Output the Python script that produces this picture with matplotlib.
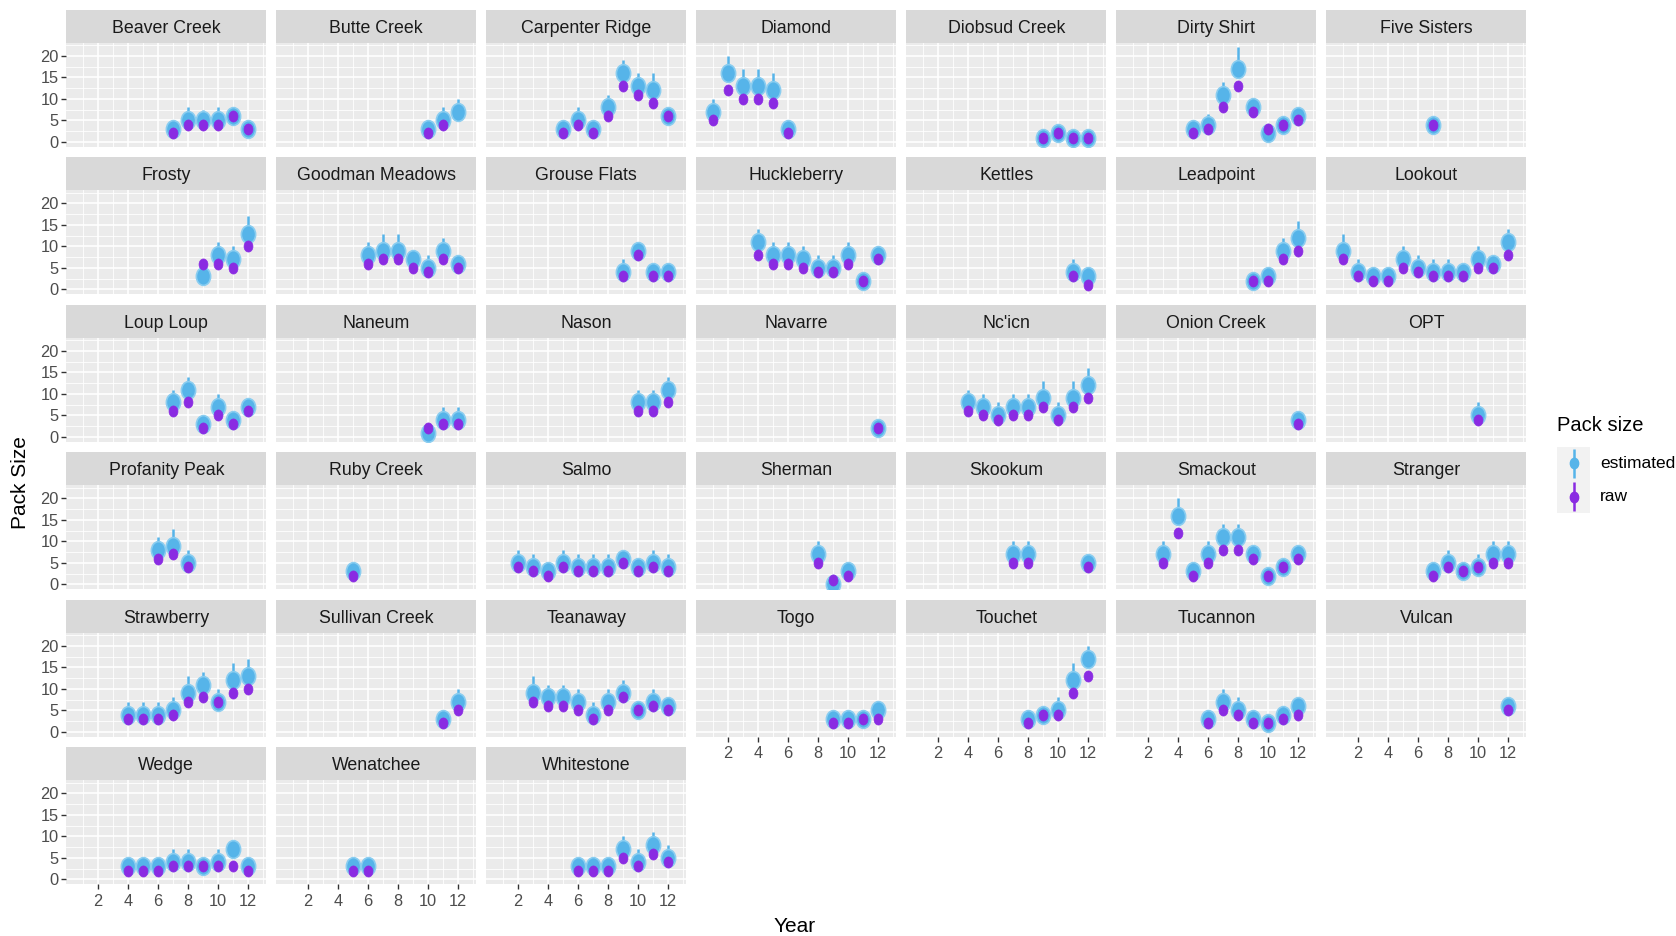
import numpy as np
import matplotlib
matplotlib.use("Agg")
import matplotlib.pyplot as plt
from matplotlib.path import Path
from matplotlib import font_manager as fm

nan = np.nan

packs = ["Beaver Creek", "Butte Creek", "Carpenter Ridge", "Diamond", "Diobsud Creek", "Dirty Shirt", "Five Sisters",
         "Frosty", "Goodman Meadows", "Grouse Flats", "Huckleberry", "Kettles", "Leadpoint", "Lookout",
         "Loup Loup", "Naneum", "Nason", "Navarre", "Nc'icn", "Onion Creek", "OPT",
         "Profanity Peak", "Ruby Creek", "Salmo", "Sherman", "Skookum", "Smackout", "Stranger",
         "Strawberry", "Sullivan Creek", "Teanaway", "Togo", "Touchet", "Tucannon", "Vulcan",
         "Wedge", "Wenatchee", "Whitestone"]

years = [
    [7, 8, 9, 10, 11, 12], [10, 11, 12], [5, 6, 7, 8, 9, 10, 11, 12], [1, 2, 3, 4, 5, 6], [9, 10, 11, 12],
    [5, 6, 7, 8, 9, 10, 11, 12], [7],
    [9, 10, 11, 12], [6, 7, 8, 9, 10, 11, 12], [9, 10, 11, 12], [4, 5, 6, 7, 8, 9, 10, 11, 12], [11, 12],
    [9, 10, 11, 12], [1, 2, 3, 4, 5, 6, 7, 8, 9, 10, 11, 12],
    [7, 8, 9, 10, 11, 12], [10, 11, 12], [10, 11, 12], [12], [4, 5, 6, 7, 8, 9, 10, 11, 12], [12], [10],
    [6, 7, 8], [5], [2, 3, 4, 5, 6, 7, 8, 9, 10, 11, 12], [8, 9, 10], [7, 8, 12], [3, 4, 5, 6, 7, 8, 9, 10, 11, 12],
    [7, 8, 9, 10, 11, 12],
    [4, 5, 6, 7, 8, 9, 10, 11, 12], [11, 12], [3, 4, 5, 6, 7, 8, 9, 10, 11, 12], [9, 10, 11, 12], [8, 9, 10, 11, 12],
    [6, 7, 8, 9, 10, 11, 12], [12],
    [4, 5, 6, 7, 8, 9, 10, 11, 12], [5, 6], [6, 7, 8, 9, 10, 11, 12],
]

estimated = [
    [3, 5, 5, 5, 6, 3], [3, 5, 7], [3, 5, 3, 8, 16, 13, 12, 6], [7, 16, 13, 13, 12, 3], [1, 2, 1, 1],
    [3, 4, 11, 17, 8, 2, 4, 6], [4],
    [3, 8, 7, 13], [8, 9, 9, 7, 5, 9, 6], [4, 9, 4, 4], [11, 8, 8, 7, 5, 5, 8, 2, 8], [4, 3],
    [2, 3, 9, 12], [9, 4, 3, 3, 7, 5, 4, 4, 4, 7, 6, 11],
    [8, 11, 3, 7, 4, 7], [1, 4, 4], [8, 8, 11], [2], [8, 7, 5, 7, 7, 9, 5, 9, 12], [4], [5],
    [8, 9, 5], [3], [5, 4, 3, 5, 4, 4, 4, 6, 4, 5, 4], [7, 0, 3], [7, 7, 5], [7, 16, 3, 7, 11, 11, 7, 2, 4, 7],
    [3, 5, 3, 4, 7, 7],
    [4, 4, 4, 5, 9, 11, 7, 12, 13], [3, 7], [9, 8, 8, 7, 4, 7, 9, 5, 7, 6], [3, 3, 3, 5], [3, 4, 5, 12, 17],
    [3, 7, 5, 3, 2, 4, 6], [6],
    [3, 3, 3, 4, 4, 3, 4, 7, 3], [3, 3], [3, 3, 3, 7, 4, 8, 5],
]

raw = [
    [2, 4, 4, 4, 6, 3], [2, 4, nan], [2, 4, 2, 6, 13, 11, 9, 6], [5, 12, 10, 10, 9, 2], [1, 2, 1, 1],
    [2, 3, 8, 13, 7, 3, 4, 5], [4],
    [6, 6, 5, 10], [6, 7, 7, 5, 4, 7, 5], [3, 8, 3, 3], [8, 6, 6, 5, 4, 4, 6, 2, 7], [3, 1],
    [2, 2, 7, 9], [7, 3, 2, 2, 5, 4, 3, 3, 3, 5, 5, 8],
    [6, 8, 2, 5, 3, 6], [2, 3, 3], [6, 6, 8], [2], [6, 5, 4, 5, 5, 7, 4, 7, 9], [3], [4],
    [6, 7, 4], [2], [4, 3, 2, 4, 3, 3, 3, 5, 3, 4, 3], [5, 1, 2], [5, 5, 4], [5, 12, 2, 5, 8, 8, 6, 2, 4, 6],
    [2, 4, 3, 4, 5, 5],
    [3, 3, 3, 4, 7, 8, 7, 9, 10], [2, 5], [7, 6, 6, 5, 3, 5, 8, 5, 6, 5], [2, 2, 3, 3], [2, 4, 4, 9, 13],
    [2, 5, 4, 2, 2, 3, 4], [5],
    [2, 2, 2, 3, 3, 3, 3, 3, 2], [2, 2], [2, 2, 2, 5, 3, 6, 4],
]

upper = [
    [5, 8, 7.5, 8, 8, 5], [5, 8, 10], [5, 8, 5, 11, 19, 16, 16, 8], [10, 20, 17, 17, 16, 4.5], [2.5, 3.5, 2.5, 2.5],
    [5, 6.5, 14, 22, 9.5, 3, 5.5, 7.5], [5.5],
    [3.5, 11, 10, 17], [11, 13, 13, 9, 8, 12, 8], [7, 11, 6, 5.5], [14, 11, 11, 10, 8, 8, 11, 4, 9.5], [7, 5],
    [2.5, 5, 12, 16], [13, 7, 5, 5, 10, 8, 7, 7, 6, 10, 7, 14],
    [11, 14, 4, 10, 5, 8.5], [1.5, 7, 7], [11, 11, 14], [2.5], [11, 10, 8, 10, 10, 13, 8, 13, 16], [5.5], [8],
    [11, 13, 8], [5], [8, 7, 5, 8, 7, 7, 7, 8, 6, 8, 7], [10, 1.5, 4.5], [10, 10, 7], [10, 20, 5, 10, 14, 14, 8, 3, 5, 8],
    [5, 8, 4, 7, 10, 10],
    [7, 7, 7, 8, 13, 14, 10, 16, 17], [5, 10], [13, 11, 11, 10, 7, 10, 12, 5.5, 10, 8], [5, 5, 4, 5.5], [5, 5, 8, 16, 20],
    [5, 10, 8, 5, 4, 6, 8], [8],
    [5, 5, 5, 7, 7, 5, 7, 9, 5], [5, 5], [5, 5, 5, 10, 7, 11, 8],
]

x_ticks = [2, 4, 6, 8, 10, 12]
x_minor = [1, 3, 5, 7, 9, 11, 13]
y_ticks = [0, 5, 10, 15, 20]
y_minor = [2.5, 7.5, 12.5, 17.5, 22.5]
series_labels = ["estimated", "raw"]

EST_COLOR = "#56B4E9"
EST_EDGE = "#8ACDF0"
RAW_COLOR = "#8A2BE2"


def pick_font(names):
    for name in names:
        try:
            fm.findfont(fm.FontProperties(family=name), fallback_to_default=False)
            return name
        except Exception:
            continue
    return "DejaVu Sans"


FONT = pick_font(["Liberation Sans Narrow", "Liberation Sans", "Arial", "DejaVu Sans"])
plt.rcParams["font.family"] = [FONT, "DejaVu Sans"]

circ = Path.unit_circle()
ellipse = Path(circ.vertices * np.array([0.8, 1.0]), circ.codes)

W, H = 1676, 936
fig = plt.figure(figsize=(W / 100, H / 100), dpi=100)
fig.patch.set_facecolor("white")


def rect(left, top, width, height):
    return [left / W, 1 - (top + height) / H, width / W, height / H]


NCOL = 7
COL0, COLSTEP, PW = 66.3, 210.0, 200.0
ROW0, ROWSTEP, SH, GAP = 9.6, 147.5, 33.0, 10.5
PH = ROWSTEP - SH - GAP
n = len(packs)

for i, name in enumerate(packs):
    r, c = divmod(i, NCOL)
    left = COL0 + COLSTEP * c
    top = ROW0 + ROWSTEP * r
    # strip
    sax = fig.add_axes(rect(left, top, PW, SH))
    sax.set_facecolor("#D9D9D9")
    sax.set_xticks([]); sax.set_yticks([])
    for s in sax.spines.values():
        s.set_visible(False)
    sax.text(0.5, 0.44, name, ha="center", va="center", fontsize=12.8, color="#1A1A1A",
             transform=sax.transAxes)
    # panel
    ax = fig.add_axes(rect(left, top + SH, PW, PH))
    ax.set_facecolor("#EBEBEB")
    for s in ax.spines.values():
        s.set_visible(False)
    ax.set_xlim(-0.1, 13.2)
    ax.set_ylim(-1.1, 23.1)
    ax.set_xticks(x_ticks)
    ax.set_xticks(x_minor, minor=True)
    ax.set_yticks(y_ticks)
    ax.set_yticks(y_minor, minor=True)
    ax.grid(which="major", color="white", linewidth=1.2)
    ax.grid(which="minor", color="white", linewidth=0.6)
    ax.set_axisbelow(True)
    ax.tick_params(which="minor", length=0)
    ax.tick_params(which="major", length=3.5, width=1.0, color="#333333",
                   labelcolor="#4D4D4D", labelsize=11.8, pad=2)
    ax.tick_params(axis="x", which="major", pad=3.5)

    show_x = (i + NCOL) >= n
    show_y = c == 0
    if show_x:
        ax.set_xticklabels([str(t) for t in x_ticks])
    else:
        ax.tick_params(axis="x", which="major", length=0, labelbottom=False)
    if show_y:
        ax.set_yticklabels([str(t) for t in y_ticks])
    else:
        ax.tick_params(axis="y", which="major", length=0, labelleft=False)

    yr = np.array(years[i], dtype=float)
    est = np.array(estimated[i], dtype=float)
    rw = np.array(raw[i], dtype=float)
    up = np.array(upper[i], dtype=float)
    ax.vlines(yr, est, up, color=EST_COLOR, linewidth=1.8, zorder=3)
    ax.plot(yr, est, linestyle="none", marker=ellipse, markersize=12.8,
            markerfacecolor=EST_COLOR, markeredgecolor=EST_EDGE, markeredgewidth=1.2, zorder=4)
    ax.plot(yr, rw, linestyle="none", marker=ellipse, markersize=8.0,
            markerfacecolor=RAW_COLOR, markeredgecolor=RAW_COLOR, markeredgewidth=0.5, zorder=5)

# axis titles
fig.text(795 / W, 1 - 926 / H, "Year", ha="center", va="center", fontsize=15, color="black")
fig.text(21 / W, 1 - 483 / H, "Pack Size", ha="center", va="center", rotation=90, fontsize=15, color="black")

# legend
fig.text(1557 / W, 1 - 426 / H, "Pack size", ha="left", va="center", fontsize=14.5, color="black")
key_colors = [EST_COLOR, RAW_COLOR]
for k, (lab, col) in enumerate(zip(series_labels, key_colors)):
    ktop = 447 + 33 * k
    kax = fig.add_axes(rect(1557, ktop, 33, 33))
    kax.set_facecolor("#F2F2F2")
    kax.set_xlim(0, 1); kax.set_ylim(0, 1)
    kax.set_xticks([]); kax.set_yticks([])
    for s in kax.spines.values():
        s.set_visible(False)
    kax.vlines([0.5], [0.06], [0.94], color=col, linewidth=1.8)
    kax.plot([0.5], [0.5], marker=ellipse, markersize=7.5, color=col, linestyle="none")
    fig.text(1600 / W, 1 - (ktop + 16.5) / H, lab, ha="left", va="center", fontsize=12.5, color="black")

fig.savefig("out.png", dpi=100, facecolor="white")
